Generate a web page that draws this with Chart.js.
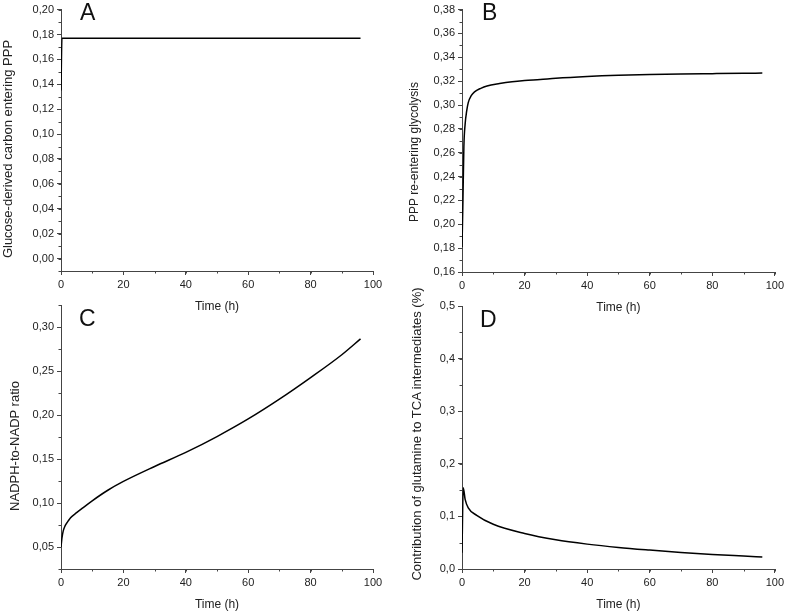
<!DOCTYPE html>
<html lang="en">
<head>
  <meta charset="UTF-8">
  <title>Model outputs over time</title>
  <script src="https://cdn.jsdelivr.net/npm/chart.js"></script>
  <style>
    body {
      margin: 0;
      background: #fff;
    }

    #wrap {
      position: relative;
      width: 787px;
      height: 614px;
      font-family: Arial, "Liberation Sans", sans-serif;
      color: #222;
    }

    #wrap canvas {
      position: absolute;
      left: 0;
      top: 0;
    }

    .letter {
      position: absolute;
      font-size: 23px;
      line-height: 1;
      color: #111;
    }

    /* y axis titles, placed by their centre */
    .ytitle {
      position: absolute;
      white-space: nowrap;
      line-height: 1.2;
      transform: translate(-50%, -50%) rotate(-90deg);
    }
  </style>
</head>
<body>
  <div id="wrap">
    <canvas id="chartA" width="787" height="614"></canvas>
    <canvas id="chartB" width="787" height="614"></canvas>
    <canvas id="chartC" width="787" height="614"></canvas>
    <canvas id="chartD" width="787" height="614"></canvas>
    <div class="letter" style="left:80px;top:1px">A</div>
    <div class="letter" style="left:482px;top:1px">B</div>
    <div class="letter" style="left:79px;top:307px">C</div>
    <div class="letter" style="left:480px;top:308px">D</div>
    <div class="ytitle" style="left:8px;top:149px;font-size:13px">Glucose-derived carbon entering PPP</div>
    <div class="ytitle" style="left:414px;top:152px;font-size:12px">PPP re-entering glycolysis</div>
    <div class="ytitle" style="left:15px;top:446px;font-size:13px">NADPH-to-NADP ratio</div>
    <div class="ytitle" style="left:417px;top:434px;font-size:13px">Contribution of glutamine to TCA intermediates (%)</div>
  </div>

  <script>
    // shared x axis
    const timeTicks = [0, 20, 40, 60, 80, 100];

    // A - glucose-derived carbon entering PPP
    const timeA = [0, 0.3, 96];
    const valuesA = [0.135, 0.177, 0.177];
    const ticksA = [0.00, 0.02, 0.04, 0.06, 0.08, 0.10, 0.12, 0.14, 0.16, 0.18, 0.20];

    // B - PPP re-entering glycolysis
    const timeB = [0, 0.3, 0.6, 1, 1.5, 2, 3, 4, 6, 8, 12, 16, 20, 25, 30, 40, 50, 60, 70, 80, 90, 96];
    const valuesB = [0.181, 0.22, 0.265, 0.284, 0.295, 0.302, 0.308, 0.311, 0.314, 0.316, 0.318, 0.3195,
                     0.3205, 0.3214, 0.3225, 0.324, 0.325, 0.3256, 0.326, 0.3263, 0.3266, 0.3268];
    const ticksB = [0.16, 0.18, 0.20, 0.22, 0.24, 0.26, 0.28, 0.30, 0.32, 0.34, 0.36, 0.38];

    // C - NADPH-to-NADP ratio
    const timeC = [0, 0.3, 0.7, 1.3, 2, 3, 5, 7, 10, 15, 20, 30, 40, 50, 60, 70, 80, 90, 96];
    const valuesC = [0.05, 0.06, 0.068, 0.074, 0.078, 0.083, 0.089, 0.0945, 0.1025, 0.1145, 0.1245,
                     0.1415, 0.1575, 0.1755, 0.1955, 0.218, 0.2425, 0.2685, 0.2865];
    const ticksC = [0.05, 0.10, 0.15, 0.20, 0.25, 0.30];

    // D - contribution of glutamine to TCA intermediates
    const timeD = [0, 0.4, 1, 2, 4.7, 10, 20, 30, 40, 50, 60, 70, 80, 90, 96];
    const valuesD = [0.031, 0.1546, 0.1325, 0.1164, 0.102, 0.085, 0.0675, 0.0555, 0.0473, 0.041, 0.036,
                     0.0315, 0.0278, 0.0246, 0.0227];
    const ticksD = [0.0, 0.1, 0.2, 0.3, 0.4, 0.5];

    const axisColor = '#444';
    const textColor = '#222';
    const fontFamily = 'Arial, "Liberation Sans", sans-serif';

    // short unlabeled ticks between the major ones
    const minorTicks = {
      id: 'minorTicks',
      afterDraw(chart, args, opts) {
        const ctx = chart.ctx;
        const area = chart.chartArea;
        ctx.save();
        ctx.strokeStyle = axisColor;
        ctx.lineWidth = 1;
        ['x', 'y'].forEach(id => {
          const scale = chart.scales[id];
          const step = opts[id];
          const n = Math.round((scale.max - scale.min) / step);
          for (let i = 0; i <= n; i++) {
            const p = Math.round(scale.getPixelForValue(scale.min + i * step)) + 0.5;
            ctx.beginPath();
            if (id === 'x') {
              ctx.moveTo(p, area.bottom);
              ctx.lineTo(p, area.bottom + 2.5);
            } else {
              ctx.moveTo(area.left - 2.5, p);
              ctx.lineTo(area.left, p);
            }
            ctx.stroke();
          }
        });
        ctx.restore();
      }
    };

    function makePanel(canvasId, p) {
      return new Chart(document.getElementById(canvasId), {
        type: 'line',
        data: {
          datasets: [{
            data: p.time.map((t, i) => ({ x: t, y: p.values[i] })),
            borderColor: '#000',
            borderWidth: 1.5,
            pointRadius: 0,
            cubicInterpolationMode: 'monotone',
            fill: false
          }]
        },
        plugins: [minorTicks],
        options: {
          responsive: false,
          animation: false,
          layout: { padding: p.pad },
          plugins: {
            legend: { display: false },
            tooltip: { enabled: false },
            minorTicks: { x: 10, y: p.minorStep }
          },
          scales: {
            x: {
              type: 'linear',
              min: 0,
              max: 100,
              afterBuildTicks: s => { s.ticks = timeTicks.map(v => ({ value: v })); },
              afterFit: s => { s.height = 45; },
              border: { display: true, color: axisColor, width: 1 },
              grid: { drawOnChartArea: false, drawTicks: true, tickLength: 4, tickColor: axisColor },
              ticks: { color: textColor, padding: 3, maxRotation: 0, font: { family: fontFamily, size: 11 } },
              title: {
                display: true,
                text: 'Time (h)',
                color: textColor,
                padding: { top: 0, bottom: 2 },
                font: { family: fontFamily, size: 12 }
              }
            },
            y: {
              type: 'linear',
              min: p.min,
              max: p.max,
              afterBuildTicks: s => { s.ticks = p.ticks.map(v => ({ value: v })); },
              afterFit: s => { s.width = p.axisWidth; },
              border: { display: true, color: axisColor, width: 1 },
              grid: { drawOnChartArea: false, drawTicks: true, tickLength: 4, tickColor: axisColor },
              ticks: {
                color: textColor,
                padding: 3,
                font: { family: fontFamily, size: 11 },
                callback: v => v.toFixed(p.decimals).replace('.', ',')
              }
            }
          }
        }
      });
    }

    makePanel('chartA', {
      time: timeA, values: valuesA, ticks: ticksA,
      min: -0.01, max: 0.20, minorStep: 0.01, decimals: 2,
      pad: { left: 0, top: 8, right: 414, bottom: 298 },
      axisWidth: 61
    });

    makePanel('chartB', {
      time: timeB, values: valuesB, ticks: ticksB,
      min: 0.16, max: 0.38, minorStep: 0.01, decimals: 2,
      pad: { left: 393, top: 8, right: 12, bottom: 297 },
      axisWidth: 69
    });

    makePanel('chartC', {
      time: timeC, values: valuesC, ticks: ticksC,
      min: 0.025, max: 0.325, minorStep: 0.025, decimals: 2,
      pad: { left: 0, top: 305, right: 414, bottom: 0 },
      axisWidth: 61
    });

    makePanel('chartD', {
      time: timeD, values: valuesD, ticks: ticksD,
      min: 0, max: 0.5, minorStep: 0.05, decimals: 1,
      pad: { left: 393, top: 306, right: 12, bottom: 0 },
      axisWidth: 69
    });
  </script>
</body>
</html>
